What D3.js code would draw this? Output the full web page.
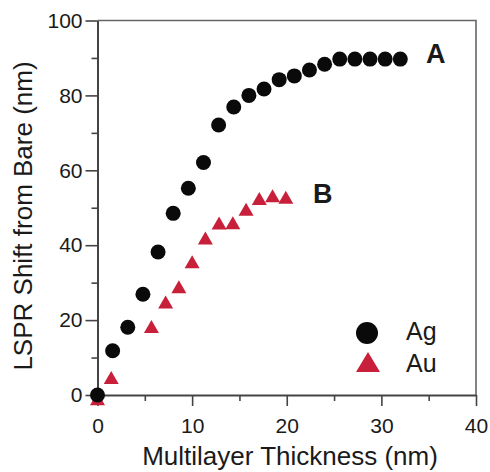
<!DOCTYPE html>
<html>
<head>
<meta charset="utf-8">
<script src="https://cdn.jsdelivr.net/npm/d3@7"></script>
<style>
  body { margin: 0; background: #fff; }
  text { font-family: "Liberation Sans", Arial, Helvetica, sans-serif; fill: #1a1a1a; }
</style>
</head>
<body>
<script>
// Ag (circles) and Au (triangles) shift vs multilayer thickness
var agX = [0, 1.6, 3.2, 4.8, 6.4, 8.0, 9.6, 11.2, 12.8, 14.4, 16.0, 17.6, 19.2, 20.8, 22.4, 24.0, 25.6, 27.2, 28.8, 30.4, 32.0]
var agY = [0, 11.8, 18.1, 26.9, 38.2, 48.5, 55.2, 62.1, 72.1, 76.9, 80.0, 81.7, 84.2, 85.2, 86.8, 88.3, 89.7, 89.7, 89.7, 89.7, 89.7]
var auX = [0, 1.45, 5.7, 7.2, 8.6, 10.0, 11.4, 12.85, 14.3, 15.7, 17.1, 18.5, 19.9]
var auY = [-1.0, 4.7, 18.3, 24.8, 28.9, 35.6, 41.9, 45.9, 46.0, 49.6, 52.5, 53.2, 52.8]
var xTicks = [0, 10, 20, 30, 40]
var xMinor = [5, 15, 25, 35]
var yTicks = [0, 20, 40, 60, 80, 100]
var yMinor = [10, 30, 50, 70, 90]
var legendNames = ["Ag", "Au"]
var red = "#c8203a"

var width = 490, height = 472
var svg = d3.select("body").append("svg")
    .attr("width", width)
    .attr("height", height)

var x = d3.scaleLinear().domain([0, 40]).range([97.5, 476])
var y = d3.scaleLinear().domain([0, 100]).range([395, 20.5])

// frame top and right
svg.append("path")
    .attr("d", "M" + x(0) + "," + y(100) + "H" + x(40) + "V" + y(0))
    .attr("fill", "none")
    .attr("stroke", "#666")
    .attr("stroke-width", 1.6)

// minor ticks
svg.append("g")
    .attr("transform", "translate(" + x(0) + ",0)")
    .call(d3.axisLeft(y).tickValues(yMinor).tickSize(6).tickFormat(""))
    .call(g => g.select(".domain").remove())
svg.append("g")
    .attr("transform", "translate(0," + y(0) + ")")
    .call(d3.axisBottom(x).tickValues(xMinor).tickSize(6).tickFormat(""))
    .call(g => g.select(".domain").remove())

// major axes
var yAxis = svg.append("g")
    .attr("transform", "translate(" + x(0) + ",0)")
    .call(d3.axisLeft(y).tickValues(yTicks).tickSize(12).tickPadding(3).tickSizeOuter(0))
var xAxis = svg.append("g")
    .attr("transform", "translate(0," + y(0) + ")")
    .call(d3.axisBottom(x).tickValues(xTicks).tickSize(11).tickPadding(12).tickSizeOuter(0))

svg.selectAll(".tick line").attr("stroke", "#444").attr("stroke-width", 1.6)
svg.selectAll(".domain").attr("stroke", "#444").attr("stroke-width", 2)
svg.selectAll(".tick text")
    .style("font-family", '"Liberation Sans", Arial, sans-serif')
    .style("font-size", "21px")
    .attr("fill", "#1a1a1a")

// axis titles
svg.append("text")
    .attr("x", 290).attr("y", 465)
    .attr("text-anchor", "middle")
    .style("font-size", "26px")
    .text("Multilayer Thickness (nm)")
svg.append("text")
    .attr("transform", "translate(32,216) rotate(-90)")
    .attr("text-anchor", "middle")
    .style("font-size", "26px")
    .text("LSPR Shift from Bare (nm)")

// triangle centered on its bounding box
function tri(w, h) {
    return "M0," + (-h / 2) + "L" + (w / 2) + "," + (h / 2) + "L" + (-w / 2) + "," + (h / 2) + "Z"
}

var ag = agX.map((v, i) => ({ x: v, y: agY[i] }))
var au = auX.map((v, i) => ({ x: v, y: auY[i] }))

svg.append("g").selectAll("path")
    .data(au)
    .enter()
    .append("path")
    .attr("d", tri(15, 13))
    .attr("transform", d => "translate(" + x(d.x) + "," + y(d.y) + ")")
    .attr("fill", red)

svg.append("g").selectAll("circle")
    .data(ag)
    .enter()
    .append("circle")
    .attr("cx", d => x(d.x))
    .attr("cy", d => y(d.y))
    .attr("r", 7.5)
    .attr("fill", "#0a0a0a")

// curve labels
svg.append("text").attr("x", 426).attr("y", 63)
    .style("font-size", "27px").style("font-weight", "bold").text("A")
svg.append("text").attr("x", 313).attr("y", 203)
    .style("font-size", "27px").style("font-weight", "bold").text("B")

// legend
var legend = svg.append("g")
legend.append("circle").attr("cx", 367).attr("cy", 333).attr("r", 11).attr("fill", "#0a0a0a")
legend.append("path").attr("d", tri(24, 20)).attr("transform", "translate(368,362)").attr("fill", red)
legend.selectAll("text.lbl")
    .data(legendNames)
    .enter()
    .append("text")
    .attr("class", "lbl")
    .attr("x", 406)
    .attr("y", (d, i) => 340 + i * 32)
    .style("font-size", "25px")
    .text(d => d)
</script>
</body>
</html>
